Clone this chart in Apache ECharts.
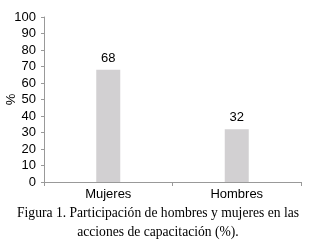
<!DOCTYPE html>
<html><head><meta charset="utf-8">
<script src="https://cdn.jsdelivr.net/npm/echarts@6/dist/echarts.min.js"></script>
<style>html,body{margin:0;padding:0;background:#fff}#c{width:316px;height:246px}</style>
</head><body><div id="c"></div>
<script>
const categories = ['Mujeres', 'Hombres'];
const values = [68, 32];
const yTicks = [0, 10, 20, 30, 40, 50, 60, 70, 80, 90, 100];
const caption = 'Figura 1. Participación de hombres y mujeres en las\nacciones de capacitación (%).';

const chart = echarts.init(document.getElementById('c'));
chart.setOption({
  animation: false,
  backgroundColor: '#fff',
  title: {
    text: caption, left: 'center', top: 199, padding: [5, 0, 5, 16],
    textStyle: { fontFamily: 'Liberation Serif', fontSize: 13.6, fontWeight: 'normal', color: '#000', lineHeight: 19, align: 'center' }
  },
  grid: { left: 44, right: 15, top: 17, bottom: 64, containLabel: false, outerBoundsMode: 'none' },
  xAxis: {
    type: 'category', data: categories,
    axisLine: { lineStyle: { color: '#999', width: 1 } },
    axisTick: { show: true, length: 4, lineStyle: { color: '#999' } },
    axisLabel: { fontFamily: 'Liberation Sans', fontSize: 13, color: '#000', margin: 6 }
  },
  yAxis: {
    type: 'value', min: yTicks[0], max: yTicks[yTicks.length - 1], interval: 10,
    name: '%', nameLocation: 'middle', nameGap: 26, nameRotate: 90, nameMoveOverlap: false,
    nameTextStyle: { fontFamily: 'Liberation Sans', fontSize: 13, color: '#000' },
    axisLine: { show: true, lineStyle: { color: '#999', width: 1 } },
    axisTick: { show: true, length: 3, lineStyle: { color: '#999' } },
    splitLine: { show: false },
    axisLabel: { fontFamily: 'Liberation Sans', fontSize: 13, color: '#000', margin: 8 }
  },
  series: [{
    type: 'bar', data: values, barWidth: 24,
    itemStyle: { color: '#d2d0d2' },
    label: { show: true, position: 'top', distance: 5, fontFamily: 'Liberation Sans', fontSize: 13, color: '#000' }
  }]
});
</script></body></html>
